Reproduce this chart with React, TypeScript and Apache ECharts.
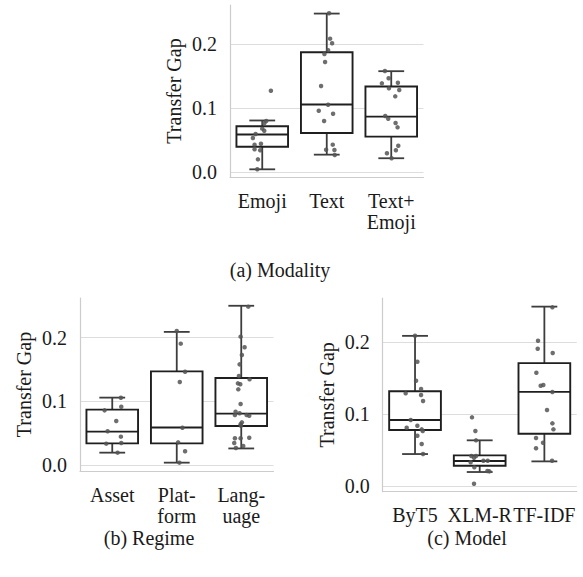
import React, { useEffect, useRef } from "react";
import * as echarts from "echarts";

const FONT = "Liberation Serif";

// ---------- Data ----------
const yTicks = [0, 0.1, 0.2];

// (a) Modality
const modalityCats = ["Emoji", "Text", "Text+\nEmoji"];
// [min whisker, Q1, median, Q3, max whisker]
const modalityBoxes = [
  [0.0047, 0.040, 0.059, 0.072, 0.081],
  [0.0276, 0.0615, 0.106, 0.1875, 0.248],
  [0.022, 0.0557, 0.087, 0.134, 0.158],
];
// [jitter offset, value]
const modalityEmojiPts = [
  [0.134, 0.1275], [0.062, 0.0802], [0.031, 0.0766], [0.0, 0.0682], [0.031, 0.065],
  [-0.103, 0.0598], [-0.145, 0.0536], [-0.119, 0.0432], [-0.02, 0.0447], [-0.119, 0.0359],
  [-0.031, 0.0344], [-0.067, 0.0203], [-0.077, 0.0047],
];
const modalityTextPts = [
  [0.036, 0.2484], [0.052, 0.2088], [0.083, 0.2016], [0.021, 0.1906], [-0.036, 0.1848],
  [-0.026, 0.1723], [-0.088, 0.1348], [0.021, 0.1056], [-0.124, 0.0963], [0.098, 0.0916],
  [-0.041, 0.0802], [0.093, 0.0432], [-0.01, 0.0353], [0.119, 0.0348], [0.124, 0.027],
];
const modalityBothPts = [
  [-0.098, 0.1583], [-0.041, 0.1469], [-0.145, 0.139], [0.103, 0.14], [-0.036, 0.1312],
  [0.124, 0.1286], [0.062, 0.1187], [-0.093, 0.088], [-0.047, 0.0838], [0.067, 0.077],
  [0.098, 0.0703], [0.109, 0.0416], [0.072, 0.0344], [-0.067, 0.0297], [0.005, 0.0219],
];

// (b) Regime
const regimeCats = ["Asset", "Plat-\nform", "Lang-\nuage"];
const regimeBoxes = [
  [0.0194, 0.034, 0.0524, 0.087, 0.1058],
  [0.0037, 0.034, 0.059, 0.147, 0.209],
  [0.026, 0.0613, 0.0806, 0.1367, 0.25],
];
const regimeAssetPts = [
  [0.134, 0.1057], [0.14, 0.0915], [-0.119, 0.0858], [0.062, 0.0691], [-0.072, 0.0529],
  [0.134, 0.0445], [-0.093, 0.0335], [0.14, 0.0345], [0.083, 0.0194],
];
const regimePlatformPts = [
  [0.0, 0.2104], [0.062, 0.1905], [0.129, 0.1465], [0.047, 0.1303], [0.088, 0.0586],
  [0.021, 0.0356], [0.129, 0.0215], [0.041, 0.0037],
];
const regimeLanguagePts = [
  [0.109, 0.2486], [-0.01, 0.2015], [0.052, 0.1848], [0.01, 0.1727], [-0.026, 0.158],
  [-0.036, 0.1397], [0.129, 0.1345], [-0.052, 0.1282], [-0.015, 0.1267], [-0.046, 0.1188],
  [-0.01, 0.0958], [-0.088, 0.0837], [-0.026, 0.0812], [-0.098, 0.0785], [0.124, 0.0774],
  [0.083, 0.0785], [0.01, 0.067], [-0.01, 0.0639], [-0.005, 0.0617], [-0.098, 0.0419],
  [-0.01, 0.0419], [0.124, 0.0429], [-0.109, 0.0345], [0.031, 0.0298], [-0.083, 0.0267],
];

// (c) Model
const modelCats = ["ByT5", "XLM-R", "TF-IDF"];
const modelBoxes = [
  [0.0445, 0.078, 0.0918, 0.132, 0.209],
  [0.0195, 0.0283, 0.0348, 0.0427, 0.0636],
  [0.0343, 0.0727, 0.1311, 0.171, 0.2497],
];
const modelByT5Pts = [
  [0.0, 0.2092], [0.036, 0.173], [0.016, 0.1466], [0.093, 0.135], [-0.145, 0.129],
  [0.093, 0.1267], [0.124, 0.1183], [-0.067, 0.0919], [-0.129, 0.0812], [0.036, 0.0839],
  [0.103, 0.0789], [0.119, 0.0766], [0.036, 0.07], [0.103, 0.0585], [0.124, 0.0445],
];
const modelXlmPts = [
  [-0.119, 0.0956], [-0.067, 0.0766], [-0.057, 0.0636], [-0.057, 0.0418], [-0.129, 0.0418],
  [-0.088, 0.0394], [0.057, 0.0352], [0.124, 0.0352], [-0.14, 0.033], [-0.083, 0.026],
  [0.119, 0.0209], [0.15, 0.0204], [-0.088, 0.0032],
];
const modelTfidfPts = [
  [0.124, 0.2487], [-0.098, 0.2023], [-0.103, 0.1911], [0.129, 0.1851], [-0.124, 0.1577],
  [-0.057, 0.1396], [-0.016, 0.1406], [0.124, 0.1308], [0.041, 0.1058], [0.124, 0.0872],
  [0.14, 0.0789], [-0.129, 0.0668], [-0.021, 0.0603], [-0.129, 0.0525], [0.119, 0.0352],
];

const captions = ["(a) Modality", "(b) Regime", "(c) Model"];

// ---------- Helpers ----------
const jitter = (cat: number, pts: number[][]) => pts.map(([dx, v]) => [cat + dx, v]);

const renderBox = (params: any, api: any) => {
  const x = api.value(0);
  const pMin = api.coord([x, api.value(1)]);
  const pQ1 = api.coord([x, api.value(2)]);
  const pMed = api.coord([x, api.value(3)]);
  const pQ3 = api.coord([x, api.value(4)]);
  const pMax = api.coord([x, api.value(5)]);
  const band = api.size([1, 0])[0];
  const w = band * 0.8;
  const cx = pMin[0];
  const whisk = { stroke: "#3d3d3d", lineWidth: 1.8 };
  const edge = { stroke: "#1f1f1f", lineWidth: 1.9 };
  return {
    type: "group",
    children: [
      { type: "line", shape: { x1: cx, y1: pMin[1], x2: cx, y2: pQ1[1] }, style: whisk },
      { type: "line", shape: { x1: cx, y1: pQ3[1], x2: cx, y2: pMax[1] }, style: whisk },
      { type: "line", shape: { x1: cx - w / 4, y1: pMin[1], x2: cx + w / 4, y2: pMin[1] }, style: whisk },
      { type: "line", shape: { x1: cx - w / 4, y1: pMax[1], x2: cx + w / 4, y2: pMax[1] }, style: whisk },
      {
        type: "rect",
        shape: { x: cx - w / 2, y: pQ3[1], width: w, height: pQ1[1] - pQ3[1] },
        style: { fill: "#ffffff", ...edge },
      },
      { type: "line", shape: { x1: cx - w / 2, y1: pMed[1], x2: cx + w / 2, y2: pMed[1] }, style: edge },
    ],
  };
};

export default function App() {
  const ref = useRef<HTMLDivElement>(null);

  useEffect(() => {
    if (!ref.current) return;
    const chart = echarts.init(ref.current, null, { renderer: "svg" });

    const grids = [
      { left: 230, top: 5, width: 193.5, height: 172 },
      { left: 80, top: 298, width: 193.5, height: 173 },
      { left: 382.7, top: 298, width: 194, height: 193.7 },
    ];
    const yRanges = [
      [-0.0073, 0.2614],
      [-0.0094, 0.2622],
      [-0.0079, 0.2617],
    ];
    const catSets = [modalityCats, regimeCats, modelCats];
    const boxSets = [modalityBoxes, regimeBoxes, modelBoxes];
    const ptSets = [
      [modalityEmojiPts, modalityTextPts, modalityBothPts],
      [regimeAssetPts, regimePlatformPts, regimeLanguagePts],
      [modelByT5Pts, modelXlmPts, modelTfidfPts],
    ];

    const xAxis: any[] = [];
    const yAxis: any[] = [];
    const series: any[] = [];

    grids.forEach((_, i) => {
      xAxis.push({
        type: "category",
        gridIndex: i,
        data: catSets[i],
        axisLine: { show: true, onZero: false, lineStyle: { color: "#cccccc", width: 1.2 } },
        axisTick: { show: false },
        axisLabel: {
          color: "#1a1a1a",
          fontFamily: FONT,
          fontSize: 20,
          lineHeight: 21,
          margin: 13,
          interval: 0,
        },
        splitLine: { show: false },
      });
      xAxis.push({
        type: "value",
        gridIndex: i,
        min: -0.5,
        max: 2.5,
        show: false,
        axisLine: { onZero: false },
        splitLine: { show: false },
      });
      yAxis.push({
        type: "value",
        gridIndex: i,
        min: yRanges[i][0],
        max: yRanges[i][1],
        name: "Transfer Gap",
        nameLocation: "middle",
        nameGap: 46,
        nameTextStyle: { color: "#1a1a1a", fontFamily: FONT, fontSize: 20 },
        axisLine: { show: true, onZero: false, lineStyle: { color: "#cccccc", width: 1.2 } },
        axisTick: { show: false, customValues: yTicks },
        axisLabel: {
          customValues: yTicks,
          formatter: (v: number) => v.toFixed(1),
          color: "#1a1a1a",
          fontFamily: FONT,
          fontSize: 20,
          margin: 13,
        },
        splitLine: { show: true, lineStyle: { color: "#dddddd", width: 1.2 } },
      });

      series.push({
        type: "custom",
        xAxisIndex: 2 * i,
        yAxisIndex: i,
        z: 2,
        renderItem: renderBox,
        encode: { x: 0, y: [1, 2, 3, 4, 5] },
        data: boxSets[i].map((b, k) => [k, ...b]),
      });
      series.push({
        type: "scatter",
        xAxisIndex: 2 * i + 1,
        yAxisIndex: i,
        z: 3,
        symbolSize: 4.5,
        itemStyle: { color: "#555555", opacity: 0.85 },
        data: ptSets[i].flatMap((pts, k) => jitter(k, pts)),
      });
    });

    const captionPos = [
      [280, 270],
      [149, 538],
      [467, 538],
    ];

    chart.setOption({
      animation: false,
      backgroundColor: "#ffffff",
      grid: grids,
      xAxis,
      yAxis,
      series,
      graphic: captions.map((c, i) => ({
        type: "text",
        x: captionPos[i][0],
        y: captionPos[i][1],
        style: {
          text: c,
          fill: "#1a1a1a",
          fontFamily: FONT,
          fontSize: 20,
          align: "center",
          verticalAlign: "middle",
        },
      })),
    });

    return () => chart.dispose();
  }, []);

  return (
    <div
      ref={ref}
      style={{ position: "absolute", left: 0, top: 0, width: 583, height: 577 }}
    />
  );
}
